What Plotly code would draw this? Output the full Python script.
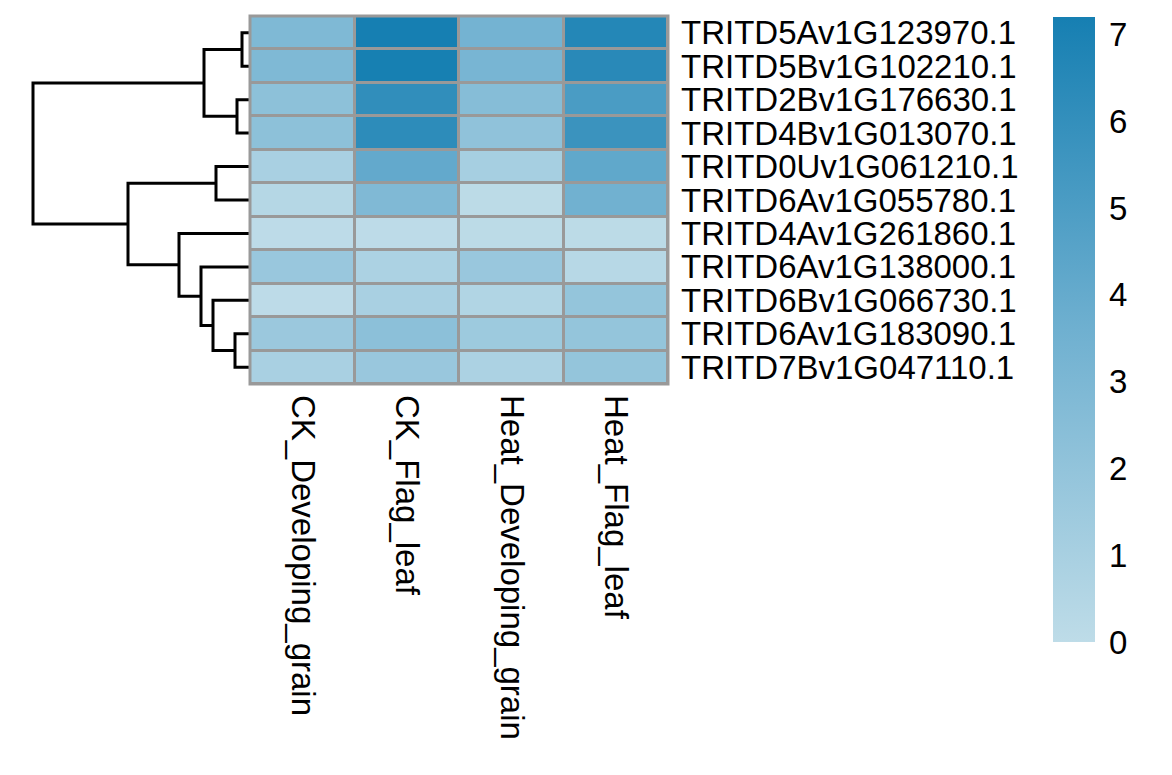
import plotly.graph_objects as go

W, H = 1172, 775

genes = ["TRITD5Av1G123970.1", "TRITD5Bv1G102210.1", "TRITD2Bv1G176630.1",
         "TRITD4Bv1G013070.1", "TRITD0Uv1G061210.1", "TRITD6Av1G055780.1",
         "TRITD4Av1G261860.1", "TRITD6Av1G138000.1", "TRITD6Bv1G066730.1",
         "TRITD6Av1G183090.1", "TRITD7Bv1G047110.1"]
samples = ["CK_Developing_grain", "CK_Flag_leaf", "Heat_Developing_grain", "Heat_Flag_leaf"]

ck_grain   = [2.88, 2.88, 2.24, 2.24, 0.95, 0.43, 0.05, 1.68, 0.05, 1.60, 0.95]
ck_flag    = [7.20, 7.15, 6.11, 6.28, 4.09, 2.84, 0.05, 0.82, 0.95, 2.28, 1.68]
heat_grain = [3.36, 3.18, 2.54, 2.10, 1.08, 0.09, 0.10, 1.68, 0.60, 1.50, 0.82]
heat_flag  = [6.63, 6.45, 5.08, 5.72, 4.22, 3.53, 0.08, 0.30, 1.90, 1.90, 1.90]

# hierarchical clustering of rows: (child a, child b, height); leaves 0..10, internal 11..
merges = [(0, 1, 0.40), (2, 3, 0.65), (11, 12, 2.30), (4, 5, 1.70), (9, 10, 0.75),
          (8, 15, 1.85), (7, 16, 2.45), (6, 17, 3.55), (14, 18, 6.10), (13, 19, 10.85)]

cbar_ticks = [0, 1, 2, 3, 4, 5, 6, 7]

z = [list(r) for r in zip(ck_grain, ck_flag, heat_grain, heat_flag)]
n = len(genes)

# dendrogram segments
pos = {i: (float(i), 0.0) for i in range(n)}
dx, dy = [], []
for k, (a, b, h) in enumerate(merges):
    ya, ha = pos[a]
    yb, hb = pos[b]
    dx += [ha, h, h, hb, None]
    dy += [ya, ya, yb, yb, None]
    pos[n + k] = ((ya + yb) / 2, h)

FS = 33

fig = go.Figure()
fig.add_trace(go.Heatmap(
    z=z, x=list(range(len(samples))), y=list(range(n)),
    zmin=0, zmax=7.2, xgap=3, ygap=3,
    colorscale=[[0, "#BEDCE8"], [0.5, "#6FB0D0"], [1, "#167FB2"]],
    colorbar=dict(thickness=42, thicknessmode="pixels", len=625, lenmode="pixels",
                  x=1053 / W, xanchor="left", y=(H - 17) / H, yanchor="top",
                  outlinewidth=0, tickvals=cbar_ticks, ticks="outside", ticklen=8,
                  tickcolor="rgba(0,0,0,0)", xpad=0, ypad=0,
                  tickfont=dict(size=FS, color="black")),
    hoverinfo="skip",
))
fig.add_trace(go.Scatter(x=dx, y=dy, xaxis="x2", yaxis="y", mode="lines",
                         line=dict(color="black", width=3), hoverinfo="skip",
                         showlegend=False))

ytop = (H - 16) / H
ybot = (H - 384) / H
fig.update_layout(
    width=W, height=H, margin=dict(l=0, r=0, t=0, b=0, autoexpand=False),
    paper_bgcolor="white", plot_bgcolor="white",
    font=dict(family="Liberation Sans, Arial, sans-serif", size=FS, color="black"),
    xaxis=dict(domain=[250 / W, 668 / W], range=[-0.5, 3.5], tickmode="array",
               tickvals=list(range(len(samples))), ticktext=samples, tickangle=90,
               ticks="", showgrid=False, zeroline=False, automargin=False,
               ticklabelstandoff=10, anchor="y"),
    yaxis=dict(domain=[ybot, ytop], range=[n - 0.5, -0.5], tickmode="array",
               tickvals=list(range(n)), ticktext=genes, side="right", ticks="",
               showgrid=False, zeroline=False, automargin=False,
               ticklabelstandoff=12, anchor="x"),
    xaxis2=dict(domain=[0, 250 / W], range=[12.5, 0], visible=False, anchor="y"),
    shapes=[
        dict(type="rect", xref="x domain", yref="y domain", x0=0, x1=1, y0=0, y1=1,
             fillcolor="#999999", line=dict(width=0), layer="below"),
        dict(type="rect", xref="x domain", yref="y domain", x0=0, x1=1, y0=0, y1=1,
             fillcolor="rgba(0,0,0,0)", line=dict(color="#999999", width=3), layer="above"),
    ],
)

fig.write_html("out.html", config={"displayModeBar": False},
               post_script="document.body.style.margin='0';document.body.style.padding='0';")
